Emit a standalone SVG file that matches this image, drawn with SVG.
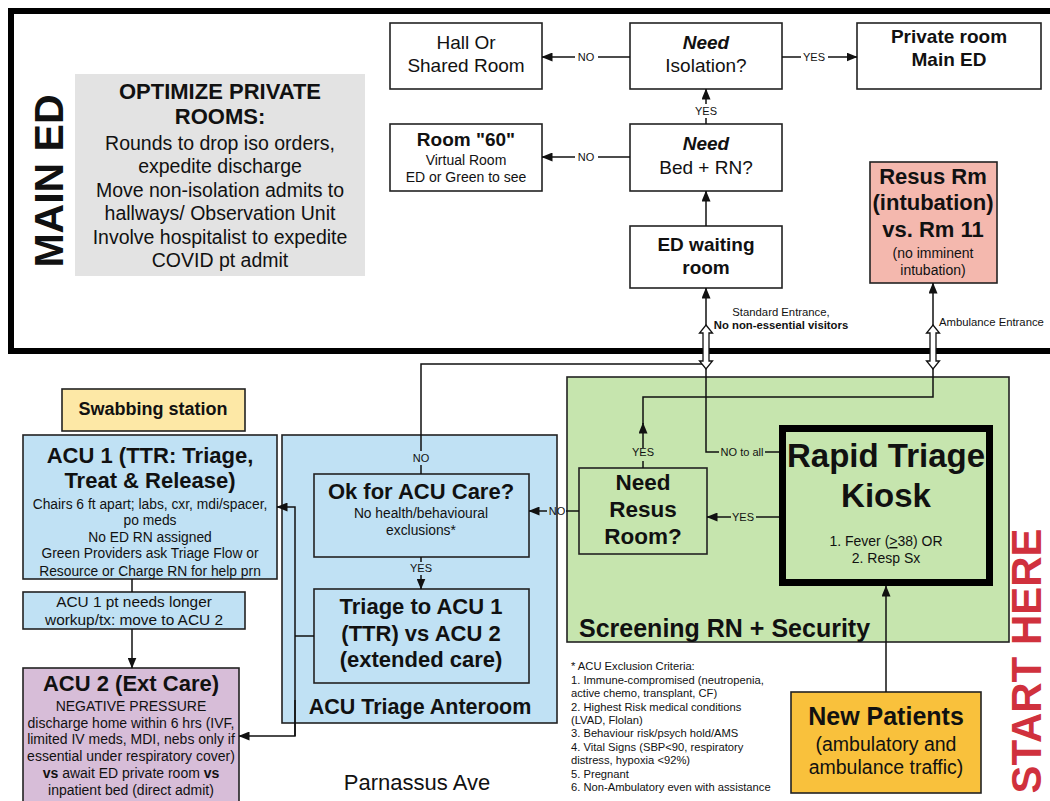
<svg xmlns="http://www.w3.org/2000/svg" width="1050" height="801" viewBox="0 0 1050 801">
<defs>
<marker id="ah" markerUnits="userSpaceOnUse" markerWidth="11" markerHeight="9" refX="10.5" refY="4.5" orient="auto"><path d="M0,0 L11,4.5 L0,9 z" fill="#111"/></marker>
</defs>
<style>
text{font-family:"Liberation Sans",Arial,Helvetica,sans-serif;fill:#111;text-anchor:middle}
.b{font-weight:bold}
.bi{font-weight:bold;font-style:italic}
.box{stroke:#222;stroke-width:1.6}
.w{fill:#fff}
.blue{fill:#c0e1f4}
.green{fill:#c6e5ae}
.c{fill:none;stroke:#111;stroke-width:1.5}
.ca{fill:none;stroke:#111;stroke-width:1.5;marker-end:url(#ah)}
.lab{font-size:11px}
.st{text-anchor:start}
.dbl{fill:#fff;stroke:#111;stroke-width:1.3}
</style>
<rect x="0" y="0" width="1050" height="801" fill="#fff"/>

<g id="main-ed-frame">
<rect x="11" y="11" width="1060" height="340" fill="none" stroke="#000" stroke-width="6"/>
<text transform="translate(63,181) rotate(-90)" class="b" font-size="41">MAIN ED</text>
</g>

<g id="optimize-note">
<rect x="75" y="74" width="290" height="202" fill="#e3e3e3"/>
<text x="220" y="99" class="b" font-size="22">OPTIMIZE PRIVATE</text>
<text x="220" y="124" class="b" font-size="22">ROOMS:</text>
<text x="220" y="150" font-size="19.5">Rounds to drop iso orders,</text>
<text x="220" y="173" font-size="19.5">expedite discharge</text>
<text x="220" y="197" font-size="19.5">Move non-isolation admits to</text>
<text x="220" y="220" font-size="19.5">hallways/ Observation Unit</text>
<text x="220" y="244" font-size="19.5">Involve hospitalist to expedite</text>
<text x="220" y="267" font-size="19.5">COVID pt admit</text>
</g>

<g id="start-here">
<text transform="translate(1041,661) rotate(-90)" class="b" font-size="42" style="fill:#d0313d">START HERE</text>
</g>

<g id="hall-shared">
<rect x="390" y="23" width="152" height="66" class="box w"/>
<text x="466" y="49" font-size="19">Hall Or</text>
<text x="466" y="72" font-size="19">Shared Room</text>
</g>

<g id="need-isolation">
<rect x="630" y="23" width="152" height="66" class="box w"/>
<text x="706" y="49" class="bi" font-size="19">Need</text>
<text x="706" y="72" font-size="19">Isolation?</text>
</g>

<g id="private-room">
<rect x="857" y="23" width="184" height="66" class="box w"/>
<text x="949" y="43" class="b" font-size="19">Private room</text>
<text x="949" y="66" class="b" font-size="19">Main ED</text>
</g>

<g id="room-60">
<rect x="390" y="124" width="152" height="67" class="box w"/>
<text x="466" y="146" class="b" font-size="19">Room "60"</text>
<text x="466" y="165" font-size="14">Virtual Room</text>
<text x="466" y="182" font-size="14">ED or Green to see</text>
</g>

<g id="need-bed">
<rect x="630" y="124" width="152" height="67" class="box w"/>
<text x="706" y="150" class="bi" font-size="19">Need</text>
<text x="706" y="174" font-size="19">Bed + RN?</text>
</g>

<g id="ed-waiting">
<rect x="630" y="226" width="152" height="62" class="box w"/>
<text x="706" y="251" class="b" font-size="19">ED waiting</text>
<text x="706" y="274" class="b" font-size="19">room</text>
</g>

<g id="resus-rm">
<rect x="870" y="162" width="127" height="121" class="box" fill="#f4b8ae"/>
<text x="933" y="184" class="b" font-size="22">Resus Rm</text>
<text x="933" y="210" class="b" font-size="22">(intubation)</text>
<text x="933" y="237" class="b" font-size="22">vs. Rm 11</text>
<text x="933" y="258" font-size="14">(no imminent</text>
<text x="933" y="275" font-size="14">intubation)</text>
</g>

<g id="entrance-labels">
<text x="781" y="316" font-size="11.3">Standard Entrance,</text>
<text x="781" y="329" class="b" font-size="11.3">No non-essential visitors</text>
<text x="939" y="326" class="st" font-size="11.3">Ambulance Entrance</text>
</g>

<g id="swabbing">
<rect x="62" y="389" width="183" height="42" class="box" fill="#fde8a6"/>
<text x="153" y="415" class="b" font-size="18">Swabbing station</text>
</g>

<g id="acu1">
<rect x="23" y="435" width="254" height="144" class="box blue"/>
<text x="150" y="463" class="b" font-size="22">ACU 1 (TTR: Triage,</text>
<text x="150" y="488" class="b" font-size="22">Treat &amp; Release)</text>
<text x="150" y="509" font-size="13.8">Chairs 6 ft apart; labs, cxr, mdi/spacer,</text>
<text x="150" y="525" font-size="13.8">po meds</text>
<text x="150" y="542" font-size="13.8">No ED RN assigned</text>
<text x="150" y="558" font-size="13.8">Green Providers ask Triage Flow or</text>
<text x="150" y="576" font-size="13.8">Resource or Charge RN for help prn</text>
</g>

<g id="acu1-longer">
<rect x="23" y="592" width="222" height="37" class="box blue"/>
<text x="134" y="607" font-size="15.4">ACU 1 pt needs longer</text>
<text x="134" y="625" font-size="15.4">workup/tx: move to ACU 2</text>
</g>

<g id="acu2">
<rect x="23" y="668" width="216" height="150" class="box" fill="#d7bdd8"/>
<text x="131" y="691" class="b" font-size="22">ACU 2 (Ext Care)</text>
<text x="131" y="711" font-size="14">NEGATIVE PRESSURE</text>
<text x="131" y="728" font-size="14">discharge home within 6 hrs (IVF,</text>
<text x="131" y="744" font-size="14">limited IV meds, MDI, nebs only if</text>
<text x="131" y="761" font-size="14">essential under respiratory cover)</text>
<text x="131" y="778" font-size="14"><tspan class="b">vs</tspan> await ED private room <tspan class="b">vs</tspan></text>
<text x="131" y="795" font-size="14">inpatient bed (direct admit)</text>
</g>

<g id="acu-anteroom">
<rect x="282" y="435" width="275" height="288" class="box blue"/>
<text x="420" y="714" class="b" font-size="21.5">ACU Triage Anteroom</text>
</g>

<g id="ok-acu">
<rect x="314" y="474" width="215" height="83" class="box blue"/>
<text x="421" y="499" class="b" font-size="22">Ok for ACU Care?</text>
<text x="421" y="518" font-size="13.8">No health/behavioural</text>
<text x="421" y="535" font-size="13.8">exclusions*</text>
</g>

<g id="triage-acu">
<rect x="314" y="589" width="215" height="94" class="box blue"/>
<text x="421" y="614" class="b" font-size="22">Triage to ACU 1</text>
<text x="421" y="641" class="b" font-size="22">(TTR) vs ACU 2</text>
<text x="421" y="667" class="b" font-size="22">(extended care)</text>
</g>

<g id="screening">
<rect x="567" y="377" width="442" height="265" class="box green"/>
<text x="579" y="637" class="b st" font-size="25">Screening RN + Security</text>
</g>

<g id="need-resus">
<rect x="579" y="468" width="128" height="86" class="box green"/>
<text x="643" y="490" class="b" font-size="22.5">Need</text>
<text x="643" y="517" class="b" font-size="22.5">Resus</text>
<text x="643" y="544" class="b" font-size="22.5">Room?</text>
</g>

<g id="kiosk">
<rect x="782.5" y="428.5" width="207" height="154" fill="#c6e5ae" stroke="#000" stroke-width="7"/>
<text x="886" y="467" class="b" font-size="33">Rapid Triage</text>
<text x="886" y="507" class="b" font-size="33">Kiosk</text>
<text x="886" y="546" font-size="14">1. Fever (<tspan text-decoration="underline">&gt;</tspan>38) OR</text>
<text x="886" y="563" font-size="14">2. Resp Sx</text>
</g>

<g id="exclusion-criteria">
<text x="571" y="670" class="st" font-size="11.2">* ACU Exclusion Criteria:</text>
<text x="571" y="684" class="st" font-size="11.2">1. Immune-compromised (neutropenia,</text>
<text x="571" y="697" class="st" font-size="11.2">active chemo, transplant, CF)</text>
<text x="571" y="711" class="st" font-size="11.2">2. Highest Risk medical conditions</text>
<text x="571" y="724" class="st" font-size="11.2">(LVAD, Flolan)</text>
<text x="571" y="737" class="st" font-size="11.2">3. Behaviour risk/psych hold/AMS</text>
<text x="571" y="751" class="st" font-size="11.2">4. Vital Signs (SBP&lt;90, respiratory</text>
<text x="571" y="764" class="st" font-size="11.2">distress, hypoxia &lt;92%)</text>
<text x="571" y="778" class="st" font-size="11.2">5. Pregnant</text>
<text x="571" y="791" class="st" font-size="11.2">6. Non-Ambulatory even with assistance</text>
</g>

<g id="new-patients">
<rect x="791" y="692" width="190" height="101" class="box" fill="#f9c13c"/>
<text x="886" y="725" class="b" font-size="25">New Patients</text>
<text x="886" y="751" font-size="19.5">(ambulatory and</text>
<text x="886" y="774" font-size="19.5">ambulance traffic)</text>
</g>

<text x="417" y="790" font-size="22">Parnassus Ave</text>

<g id="connectors">
<path class="c" d="M630,57 L598,57"/>
<path class="ca" d="M575,57 L542,57"/>
<text x="586" y="61" class="lab">NO</text>
<path class="c" d="M782,57 L801,57"/>
<path class="ca" d="M828,57 L857,57"/>
<text x="814" y="61" class="lab">YES</text>
<path class="c" d="M706,124 L706,118"/>
<path class="ca" d="M706,104 L706,89"/>
<text x="706" y="115" class="lab">YES</text>
<path class="c" d="M630,157 L598,157"/>
<path class="ca" d="M575,157 L542,157"/>
<text x="586" y="161" class="lab">NO</text>
<path class="ca" d="M706,226 L706,191"/>
<path class="ca" d="M706,326 L706,288"/>
<path class="ca" d="M933,326 L933,283"/>
<path class="c" d="M421,474 L421,465"/>
<path class="c" d="M421,451 L421,364 L704,364"/>
<text x="421" y="462" class="lab">NO</text>
<path class="c" d="M779,452 L765,452"/>
<path class="c" d="M719,452 L706,452 L706,368"/>
<text x="742" y="456" class="lab">NO to all</text>
<path class="c" d="M643,468 L643,461"/>
<path class="ca" d="M643,448 L643,423"/>
<path class="c" d="M643,424 L643,397 L933,397 L933,368"/>
<text x="643" y="456" class="lab">YES</text>
<path class="c" d="M779,517 L756,517"/>
<path class="ca" d="M731,517 L707,517"/>
<text x="743" y="521" class="lab">YES</text>
<path class="c" d="M579,511 L566,511"/>
<path class="ca" d="M547,511 L529,511"/>
<text x="557" y="515" class="lab">NO</text>
<path class="c" d="M421,557 L421,562"/>
<path class="ca" d="M421,575 L421,589"/>
<text x="421" y="572" class="lab">YES</text>
<path class="c" d="M314,636 L295,636"/>
<path class="ca" d="M295,736 L295,507 L277,507"/>
<path class="ca" d="M295,700 L295,736 L239,736"/>
<path class="c" d="M132,579 L132,592"/>
<path class="ca" d="M132,629 L132,668"/>
<path class="ca" d="M886,692 L886,586"/>
<path class="dbl" d="M706,325 L712.5,333 L709,333 L709,361 L712.5,361 L706,369 L699.5,361 L703,361 L703,333 L699.5,333 Z"/>
<path class="dbl" d="M933,325 L939.5,333 L936,333 L936,361 L939.5,361 L933,369 L926.5,361 L930,361 L930,333 L926.5,333 Z"/>
</g>
</svg>
